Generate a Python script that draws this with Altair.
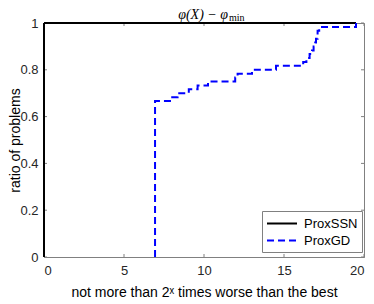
import altair as alt
import pandas as pd

# ---- data ----
series_names = ["ProxSSN", "ProxGD"]
ssn_x = [0.0, 0.0, 19.5]
ssn_y = [0.0, 1.0, 1.0]
gd_x = [6.94, 6.94, 7.95, 8.35, 9.05, 9.6, 10.25, 11.95, 12.1, 13.0, 14.5,
        16.2, 16.4, 16.6, 16.75, 16.85, 16.95, 17.0, 17.1, 17.2, 19.5]
gd_y = [0.0, 0.667, 0.683, 0.700, 0.717, 0.733, 0.750, 0.767, 0.783, 0.800, 0.817,
        0.833, 0.850, 0.867, 0.883, 0.900, 0.917, 0.933, 0.967, 0.983, 1.0]
x_ticks = [0, 5, 10, 15, 20]
y_ticks = [0, 0.2, 0.4, 0.6, 0.8, 1]
title_main = "φ(X) − φ"
title_sub = "min"

rows = []
for i, (x, y) in enumerate(zip(ssn_x, ssn_y)):
    rows.append({"series": series_names[0], "x": x, "y": y, "i": i})
for i, (x, y) in enumerate(zip(gd_x, gd_y)):
    rows.append({"series": series_names[1], "x": x, "y": y, "i": i})
df = pd.DataFrame(rows)

W, H = 320, 234
FONT = "Liberation Sans"
GRID = "#808080"

xscale = alt.Scale(domain=[0, 20], nice=False)
yscale = alt.Scale(domain=[0, 1], nice=False)

lines = alt.Chart(df).mark_line(strokeWidth=2, interpolate="step-after").encode(
    x=alt.X("x:Q", scale=xscale,
            axis=alt.Axis(values=x_ticks, title="not more than 2ˣ times worse than the best",
                          ticks=False, grid=False, labelPadding=7, titlePadding=8)),
    y=alt.Y("y:Q", scale=yscale,
            axis=alt.Axis(values=y_ticks, format="~g", title="ratio of problems",
                          ticks=False, grid=False, labelPadding=6,
                          titleX=-29, titleY=H / 2, titleBaseline="middle", titleAngle=270,
                          titleAlign="center")),
    color=alt.Color("series:N", scale=alt.Scale(domain=series_names, range=["#000000", "#0000ff"]),
                    legend=alt.Legend(title=None)),
    strokeDash=alt.StrokeDash("series:N", scale=alt.Scale(domain=series_names, range=[[1, 0], [7, 4]]),
                              legend=alt.Legend(title=None)),
    order="i:Q",
)

xt = pd.DataFrame({"t": x_ticks})
yt = pd.DataFrame({"t": y_ticks})
tick_style = dict(color=GRID, strokeWidth=1)
bottom_ticks = alt.Chart(xt).mark_rule(**tick_style).encode(
    x=alt.X("t:Q", scale=xscale), y=alt.value(H), y2=alt.value(H - 3))
top_ticks = alt.Chart(xt).mark_rule(**tick_style).encode(
    x=alt.X("t:Q", scale=xscale), y=alt.value(0), y2=alt.value(3))
left_ticks = alt.Chart(yt).mark_rule(**tick_style).encode(
    y=alt.Y("t:Q", scale=yscale), x=alt.value(0), x2=alt.value(3))
right_ticks = alt.Chart(yt).mark_rule(**tick_style).encode(
    y=alt.Y("t:Q", scale=yscale), x=alt.value(W), x2=alt.value(W - 3))

tdf = pd.DataFrame({"main": [title_main], "sub": [title_sub]})
title1 = alt.Chart(tdf).mark_text(
    font="Liberation Serif", fontStyle="italic", fontSize=14, align="right",
    baseline="alphabetic", color="#000000").encode(
    text="main:N", x=alt.value(184), y=alt.value(-4))
title2 = alt.Chart(tdf).mark_text(
    font="Liberation Serif", fontSize=10, align="left",
    baseline="alphabetic", color="#000000").encode(
    text="sub:N", x=alt.value(185), y=alt.value(-2))

chart = alt.layer(bottom_ticks, top_ticks, left_ticks, right_ticks, lines, title1, title2).properties(
    width=W, height=H,
    autosize=alt.AutoSizeParams(type="none"),
    padding={"left": 36, "top": 15, "right": 2, "bottom": 44},
).configure_view(
    stroke=GRID, strokeWidth=1
).configure_axis(
    labelFont=FONT, titleFont=FONT, labelFontSize=13, titleFontSize=14,
    labelColor="#262626", titleColor="#000000", titleFontWeight="normal",
    domainColor=GRID, domainWidth=1,
).configure_legend(
    orient="none", legendX=218, legendY=188, strokeColor=GRID, fillColor="white",
    padding=4, labelFont=FONT, labelFontSize=13, labelColor="#000000",
    symbolType="M-1,0H3", symbolSize=225, symbolStrokeWidth=2, labelOffset=21,
    rowPadding=1, cornerRadius=0,
)

chart.save("out.html", embed_options={"renderer": "svg", "actions": False})
